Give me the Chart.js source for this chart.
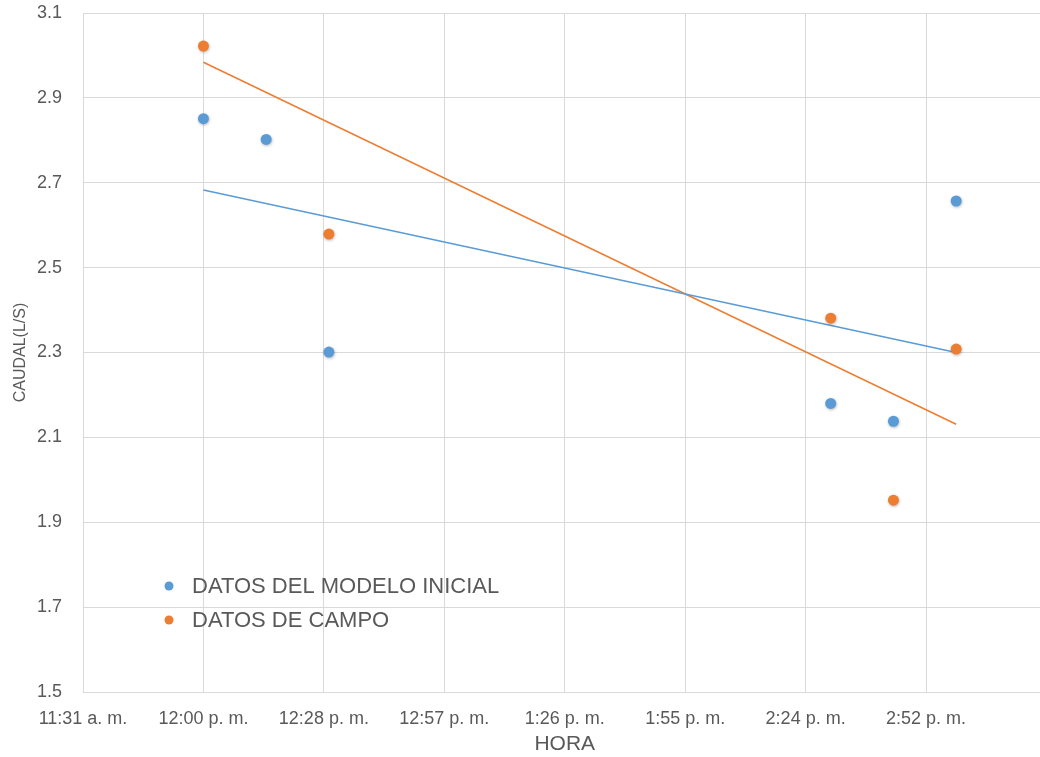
<!DOCTYPE html>
<html lang="es">
<head>
<meta charset="utf-8">
<title>Caudal vs hora</title>
<script src="https://cdn.jsdelivr.net/npm/chart.js@4.4.1/dist/chart.umd.min.js"></script>
<style>
  html, body { margin: 0; padding: 0; background: #ffffff; overflow: hidden; }
  #wrap { width: 1052px; height: 757px; }
</style>
</head>
<body>
<div id="wrap"><canvas id="grafico" width="1052" height="757"></canvas></div>
<script>
// Series: measurement times (hh:mm, 24 h) and flow in L/s
const horasModelo = ['12:00', '12:15', '12:30', '14:30', '14:45', '15:00'];
const caudalModelo = [2.851, 2.802, 2.301, 2.180, 2.138, 2.657];

const horasCampo = ['12:00', '12:30', '14:30', '14:45', '15:00'];
const caudalCampo = [3.022, 2.579, 2.381, 1.952, 2.308];

// Linear trend lines (end points)
const horasTendencia = ['12:00', '15:00'];
const tendenciaModelo = [2.683, 2.300];
const tendenciaCampo = [2.984, 2.131];

// Axis ticks (x in fractions of a day)
const xTicks = [0.48, 0.50, 0.52, 0.54, 0.56, 0.58, 0.60, 0.62];
const xTickLabels = ['11:31 a. m.', '12:00 p. m.', '12:28 p. m.', '12:57 p. m.',
                     '1:26 p. m.', '1:55 p. m.', '2:24 p. m.', '2:52 p. m.'];
const yTicks = [1.5, 1.7, 1.9, 2.1, 2.3, 2.5, 2.7, 2.9, 3.1];

const seriesNames = ['DATOS DEL MODELO INICIAL', 'DATOS DE CAMPO'];

const AZUL = '#5B9BD5';
const NARANJA = '#ED7D31';
const TEXTO = '#595959';
const REJILLA = '#D9D9D9';
const FUENTE = "'Liberation Sans', Arial, sans-serif";

// "hh:mm" -> fraction of a day
function dia(h) {
  const [hh, mm] = h.split(':').map(Number);
  return (hh * 60 + mm) / 1440;
}
function puntos(horas, valores) {
  return horas.map((h, i) => ({ x: dia(h), y: valores[i] }));
}

// Legend drawn inside the plot area, lower left
const leyendaInterior = {
  id: 'leyendaInterior',
  afterDraw(chart) {
    const ctx = chart.ctx;
    const a = chart.chartArea;
    const x0 = a.left + 86;
    const y0 = a.bottom - 106;
    const paso = 34;
    const colores = [AZUL, NARANJA];
    ctx.save();
    ctx.font = '22px ' + FUENTE;
    ctx.textBaseline = 'middle';
    ctx.textAlign = 'left';
    seriesNames.forEach((n, i) => {
      const y = y0 + i * paso;
      ctx.fillStyle = colores[i];
      ctx.beginPath();
      ctx.arc(x0, y, 4.5, 0, Math.PI * 2);
      ctx.fill();
      ctx.fillStyle = TEXTO;
      ctx.fillText(n, x0 + 23, y + 1);
    });
    ctx.restore();
  }
};

// Soft drop shadow under the markers
const sombraMarcadores = {
  id: 'sombraMarcadores',
  beforeDatasetDraw(chart, args) {
    if (!chart.data.datasets[args.index].showLine) {
      const ctx = chart.ctx;
      ctx.save();
      ctx.shadowColor = 'rgba(0,0,0,0.28)';
      ctx.shadowBlur = 3;
      ctx.shadowOffsetX = 0.5;
      ctx.shadowOffsetY = 1;
    }
  },
  afterDatasetDraw(chart, args) {
    if (!chart.data.datasets[args.index].showLine) {
      chart.ctx.restore();
    }
  }
};

new Chart(document.getElementById('grafico'), {
  type: 'scatter',
  data: {
    datasets: [
      {
        label: seriesNames[0],
        data: puntos(horasModelo, caudalModelo),
        backgroundColor: AZUL,
        borderColor: AZUL,
        pointRadius: 5.5,
        pointBorderWidth: 0,
        showLine: false
      },
      {
        label: seriesNames[1],
        data: puntos(horasCampo, caudalCampo),
        backgroundColor: NARANJA,
        borderColor: NARANJA,
        pointRadius: 5.5,
        pointBorderWidth: 0,
        showLine: false
      },
      {
        label: 'Lineal (' + seriesNames[0] + ')',
        data: puntos(horasTendencia, tendenciaModelo),
        borderColor: AZUL,
        borderWidth: 1.5,
        pointRadius: 0,
        showLine: true,
        fill: false
      },
      {
        label: 'Lineal (' + seriesNames[1] + ')',
        data: puntos(horasTendencia, tendenciaCampo),
        borderColor: NARANJA,
        borderWidth: 1.5,
        pointRadius: 0,
        showLine: true,
        fill: false
      }
    ]
  },
  options: {
    responsive: false,
    animation: false,
    devicePixelRatio: 1,
    layout: { padding: { top: 13, right: 0, bottom: 0, left: 0 } },
    plugins: {
      legend: { display: false },
      tooltip: { enabled: false }
    },
    scales: {
      x: {
        type: 'linear',
        min: 0.48,
        max: 0.64,
        afterBuildTicks(scale) { scale.ticks = xTicks.map(v => ({ value: v })); },
        afterFit(scale) { scale.height = 65; },
        grid: { color: REJILLA, lineWidth: 1, drawTicks: false },
        border: { color: REJILLA, width: 1 },
        ticks: {
          padding: 16,
          color: TEXTO,
          font: { family: FUENTE, size: 18 },
          maxRotation: 0,
          autoSkip: false,
          callback(v, i) { return xTickLabels[i]; }
        },
        title: {
          display: true,
          text: 'HORA',
          color: TEXTO,
          font: { family: FUENTE, size: 21 },
          padding: { top: 0, bottom: 0 }
        }
      },
      y: {
        type: 'linear',
        min: 1.5,
        max: 3.1,
        afterBuildTicks(scale) { scale.ticks = yTicks.map(v => ({ value: v })); },
        afterFit(scale) {
          scale.width = 83;
          scale.paddingTop = 0;
          scale.paddingBottom = 0;
        },
        grid: { color: REJILLA, lineWidth: 1, drawTicks: false },
        border: { color: REJILLA, width: 1 },
        ticks: {
          padding: 21,
          color: TEXTO,
          font: { family: FUENTE, size: 18 },
          callback(v) { return Number(v).toFixed(1); }
        },
        title: {
          display: true,
          text: 'CAUDAL(L/S)',
          color: TEXTO,
          font: { family: FUENTE, size: 16 },
          padding: { top: 11, bottom: 0 }
        }
      }
    }
  },
  plugins: [sombraMarcadores, leyendaInterior]
});
</script>
</body>
</html>
